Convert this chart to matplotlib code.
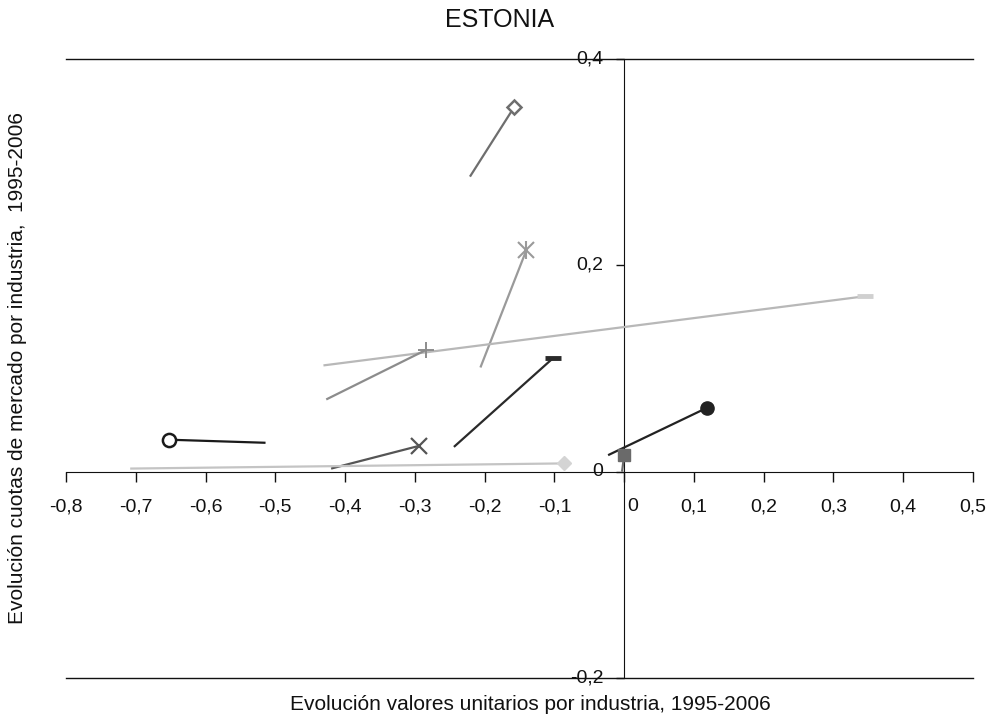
import matplotlib
matplotlib.use("Agg")
import matplotlib.pyplot as plt
from matplotlib.transforms import offset_copy

plt.rcParams['font.family'] = ['Liberation Sans', 'DejaVu Sans']

# Each series: segment from start (1995) to end (2006); marker at end
start_x = [-0.221, -0.206, -0.431, -0.427, -0.244, -0.420, -0.514, -0.708, -0.003, -0.023]
start_y = [0.286, 0.101, 0.103, 0.070, 0.024, 0.003, 0.028, 0.003, 0.000, 0.016]
end_x = [-0.158, -0.140, 0.345, -0.284, -0.102, -0.294, -0.653, -0.086, 0.000, 0.119]
end_y = [0.353, 0.215, 0.170, 0.118, 0.110, 0.025, 0.031, 0.008, 0.016, 0.062]
line_colors = ['#6e6e6e', '#9a9a9a', '#b8b8b8', '#8c8c8c', '#2a2a2a',
               '#555555', '#1a1a1a', '#c4c4c4', '#6a6a6a', '#222222']
marker_colors = ['#6e6e6e', '#9a9a9a', '#d0d0d0', '#8c8c8c', '#2a2a2a',
                 '#555555', '#1a1a1a', '#d4d4d4', '#6a6a6a', '#222222']
markers = ['D', '*', '_', '+', '_', 'x', 'o', 'D', 's', 'o']
filled = [False, True, True, True, True, True, False, True, True, True]

x_ticks = [-0.8, -0.7, -0.6, -0.5, -0.4, -0.3, -0.2, -0.1, 0, 0.1, 0.2, 0.3, 0.4, 0.5]
x_tick_labels = ['-0,8', '-0,7', '-0,6', '-0,5', '-0,4', '-0,3', '-0,2', '-0,1',
                 '0', '0,1', '0,2', '0,3', '0,4', '0,5']
y_ticks = [-0.2, 0, 0.2, 0.4]
y_tick_labels = ['-0,2', '0', '0,2', '0,4']

title = 'ESTONIA'
x_label = 'Evolución valores unitarios por industria, 1995-2006'
y_label = 'Evolución cuotas de mercado por industria,  1995-2006'

W, H = 1004, 726
fig = plt.figure(figsize=(W / 100, H / 100), dpi=100)
left, right, top, bottom = 66, 973, 59, 678
ax = fig.add_axes([left / W, (H - bottom) / H, (right - left) / W, (bottom - top) / H])
ax.set_xlim(-0.8, 0.5)
ax.set_ylim(-0.2, 0.4)

for i in range(len(start_x)):
    ax.plot([start_x[i], end_x[i]], [start_y[i], end_y[i]], color=line_colors[i],
            lw=1.6, solid_capstyle='butt', zorder=3)
    m = markers[i]
    kw = dict(marker=m, color=marker_colors[i], zorder=4, linestyle='none')
    if m == 'D':
        kw.update(markersize=7.5)
    elif m == '*':
        kw.update(markersize=0)
    elif m == '_':
        kw.update(markersize=12, markeredgewidth=3.5)
    elif m == '+':
        kw.update(markersize=12, markeredgewidth=1.4)
    elif m == 'x':
        kw.update(markersize=11, markeredgewidth=1.6)
    elif m == 'o':
        kw.update(markersize=9.5)
    elif m == 's':
        kw.update(markersize=9)
    if filled[i]:
        kw.update(markerfacecolor=marker_colors[i], markeredgecolor=marker_colors[i])
    else:
        kw.update(markerfacecolor='white', markeredgecolor=marker_colors[i], markeredgewidth=1.8)
    ax.plot([end_x[i]], [end_y[i]], **kw)
    if m == '*':
        # asterisk-like: x plus vertical bar
        ax.plot([end_x[i]], [end_y[i]], marker='x', markersize=11, markeredgewidth=1.5,
                color=marker_colors[i], linestyle='none', zorder=4)
        ax.plot([end_x[i]], [end_y[i]], marker='|', markersize=13, markeredgewidth=1.5,
                color=marker_colors[i], linestyle='none', zorder=4)

for s in ['top', 'right']:
    ax.spines[s].set_visible(False)
ax.spines['left'].set_position(('data', 0))
ax.spines['bottom'].set_position(('data', 0))
ax.spines['left'].set_color('#111111')
ax.spines['bottom'].set_color('#111111')
ax.axhline(0.4, color='#111111', lw=1.0, clip_on=False, zorder=1)
ax.axhline(-0.2, color='#111111', lw=1.0, clip_on=False, zorder=1)

ax.set_xticks(x_ticks)
ax.set_xticklabels(x_tick_labels)
ax.set_yticks(y_ticks)
ax.set_yticklabels(y_tick_labels)
ax.tick_params(axis='x', direction='out', length=7, width=1, pad=12, labelsize=14, colors='#111111')
ax.tick_params(axis='y', direction='out', length=6, width=1, pad=9, labelsize=14, colors='#111111')
for lbl in ax.get_yticklabels():
    lbl.set_transform(offset_copy(lbl.get_transform(), fig=fig, x=0, y=2, units='dots'))
lbl0 = ax.get_xticklabels()[8]
lbl0.set_transform(offset_copy(lbl0.get_transform(), fig=fig, x=9, y=0, units='dots'))

fig.text(500 / W, 1 - 20 / H, title, ha='center', va='center', fontsize=18, color='#111111')
fig.text(530 / W, 1 - 704 / H, x_label, ha='center', va='center', fontsize=15, color='#111111')
fig.text(18 / W, 1 - 368 / H, y_label, ha='center', va='center', rotation=90,
         fontsize=15, color='#111111')

fig.savefig('out.png', dpi=100)
